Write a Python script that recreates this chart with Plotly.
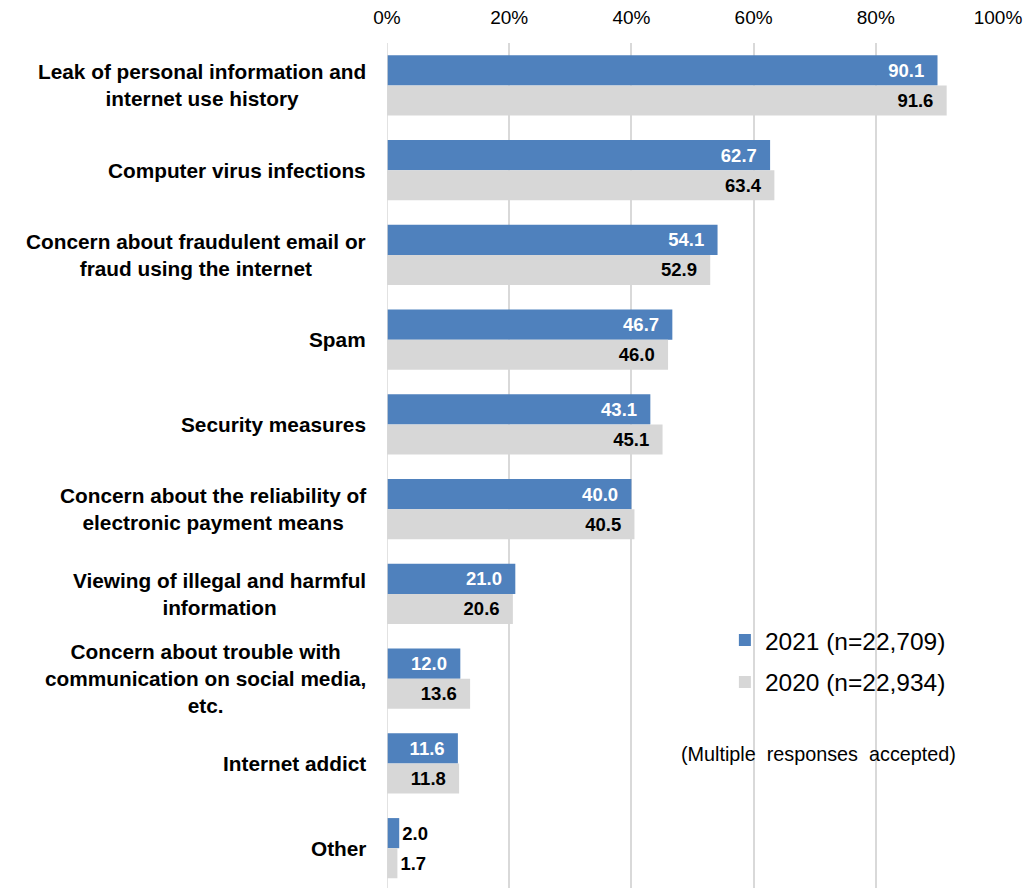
import plotly.graph_objects as go

categories = [
    "Leak of personal information and<br>internet use history",
    "Computer virus infections",
    "Concern about fraudulent email or<br>fraud using the internet",
    "Spam",
    "Security measures",
    "Concern about the reliability of<br>electronic payment means",
    "Viewing of illegal and harmful<br>information",
    "Concern about trouble with<br>communication on social media,<br>etc.",
    "Internet addict",
    "Other",
]
values_2021 = [90.1, 62.7, 54.1, 46.7, 43.1, 40.0, 21.0, 12.0, 11.6, 2.0]
values_2020 = [91.6, 63.4, 52.9, 46.0, 45.1, 40.5, 20.6, 13.6, 11.8, 1.7]
series_names = ["2021 (n=22,709)", "2020 (n=22,934)"]
x_ticks = [0, 20, 40, 60, 80, 100]

FONT = "Liberation Sans, Arial, sans-serif"
BLUE = "#4F81BD"
GREY = "#D7D7D7"


def labels(vals):
    return ["%.1f\u00a0\u00a0" % v if v >= 5 else "%.1f" % v for v in vals]


def positions(vals):
    return ["inside" if v >= 5 else "outside" for v in vals]


fig = go.Figure()
for name, vals, color, inside_color in [
    (series_names[0], values_2021, BLUE, "white"),
    (series_names[1], values_2020, GREY, "black"),
]:
    fig.add_trace(go.Bar(
        y=categories, x=vals, name=name, orientation="h",
        marker=dict(color=color, line=dict(width=0)),
        text=labels(vals), textposition=positions(vals),
        insidetextanchor="end",
        insidetextfont=dict(family=FONT, size=18.5, color=inside_color, weight="bold"),
        outsidetextfont=dict(family=FONT, size=18.5, color="black", weight="bold"),
        constraintext="none", cliponaxis=False,
        legendgroup=name,
    ))

# Centered multi-line category labels to the left of the axis
for cat in categories:
    fig.add_annotation(
        x=0, xref="paper", y=cat, yref="y", text="<b>%s</b>" % cat,
        xanchor="right", yanchor="middle", align="center", xshift=-19,
        showarrow=False, font=dict(family=FONT, size=20.8, color="black"),
    )

fig.add_annotation(
    x=0.707, xref="paper", y=0.1586, yref="paper",
    text="(Multiple  responses  accepted)",
    xanchor="center", yanchor="middle",
    showarrow=False, font=dict(family=FONT, size=19.8, color="black"),
)

fig.update_layout(
    width=1023, height=888,
    margin=dict(l=387, r=25, t=43, b=0),
    plot_bgcolor="white", paper_bgcolor="white",
    barmode="group", bargap=0.29, bargroupgap=0,
    showlegend=True,
    legend=dict(
        x=0.553, y=0.32, xanchor="left", yanchor="top",
        traceorder="grouped", tracegroupgap=7, itemwidth=30,
        font=dict(family=FONT, size=24.5, color="black"),
        bgcolor="rgba(0,0,0,0)",
    ),
    font=dict(family=FONT, color="black"),
)
fig.update_xaxes(
    range=[0, 100], side="top", tickvals=x_ticks,
    ticktext=["%d%%" % t for t in x_ticks],
    tickfont=dict(family=FONT, size=19, color="black"),
    ticklabelstandoff=14,
    showgrid=True, gridcolor="#D9D9D9", gridwidth=1.5,
    zeroline=False, showline=False, ticks="",
)
fig.update_yaxes(
    categoryorder="array", categoryarray=categories,
    range=[9.47, -0.5], showticklabels=False, showgrid=False,
    zeroline=False, showline=False, ticks="",
)
fig.add_vline(x=0, line=dict(color="#D9D9D9", width=1.5))

fig.write_html("out.html")
